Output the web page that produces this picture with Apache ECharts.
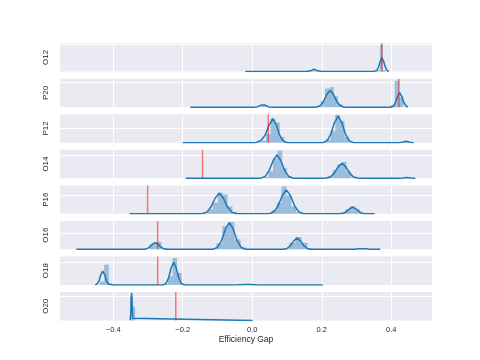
<!DOCTYPE html>
<html>
<head>
<meta charset="utf-8">
<script src="https://cdn.jsdelivr.net/npm/echarts@6/dist/echarts.min.js"></script>
<style>html,body{margin:0;padding:0;background:#fff}#c{width:480px;height:360px}</style>
</head>
<body>
<div id="c"></div>
<script>
// ---- data ----
const panelNames = ['O12','P20','P12','O14','P16','O16','O18','O20'];
const redLines = [0.373, 0.422, 0.046, -0.143, -0.301, -0.272, -0.272, -0.22];
const yMax = [104, 29, 19.6, 24.4, 15.4, 17.2, 25.3, 233];
const yTick = [100, 25, 10, 20, 10, 10, 20, 200];
const binWidth = [0.00824, 0.0125, 0.0133, 0.0132, 0.0141, 0.0175, 0.0131, 0.00704];
const xTickLabels = ['-0.4','-0.2','0.0','0.2','0.4'];

const kdeO12 = [[-0.02,0],[0.15,0],
  [0.157,0.09],[0.1623,0.67],[0.1675,2.73],[0.1728,6.34],[0.178,8.4],[0.1833,6.34],[0.1885,2.73],[0.1938,0.67],[0.199,0.09],
  [0.205,0],[0.348,0],
  [0.3535,0.55],[0.3584,4.0],[0.3633,16.25],[0.3681,37.75],[0.373,50],[0.3779,37.75],[0.3828,16.25],[0.3876,4.0],[0.3925,0.55]];
const kdeP20 = [[-0.178,0],[0.003,0],
  [0.0085,0.03],[0.0141,0.22],[0.0197,0.89],[0.0254,2.08],[0.031,2.75],[0.0366,2.08],[0.0423,0.89],[0.0479,0.22],[0.0535,0.03],
  [0.06,0],[0.178,0],
  [0.185,0.19],[0.1948,1.36],[0.2045,5.53],[0.2143,12.84],[0.224,17.0],[0.2338,12.84],[0.2435,5.53],[0.2533,1.36],[0.263,0.19],
  [0.27,0],[0.394,0],
  [0.4,0.16],[0.406,1.18],[0.412,4.78],[0.418,11.1],[0.424,14.7],[0.43,11.1],[0.436,4.78],[0.442,1.18],[0.448,0.16]];
const kdeP12 = [[-0.2,0],[0.004,0],
  [0.012,0.2],[0.025,1.5],[0.037,5.2],[0.048,12.0],[0.059,16.6],[0.0688,12.53],[0.0785,5.4],[0.0883,1.33],[0.098,0.18],
  [0.105,0],[0.198,0],
  [0.205,0.2],[0.2155,1.47],[0.226,5.98],[0.2365,13.89],[0.247,18.4],[0.2575,13.89],[0.268,5.98],[0.2785,1.47],[0.289,0.2],
  [0.296,0],[0.415,0],
  [0.421,0.01],[0.4263,0.08],[0.4315,0.33],[0.4368,0.76],[0.442,1.0],[0.4473,0.76],[0.4525,0.33],[0.4578,0.08],[0.464,0.01]];
const kdeO14 = [[-0.191,0],[0.018,0],
  [0.026,0.22],[0.0373,1.6],[0.0485,6.5],[0.0598,15.1],[0.071,20],[0.0823,15.1],[0.0935,6.5],[0.1048,1.6],[0.116,0.22],
  [0.123,0],[0.206,0],
  [0.213,0.14],[0.2243,1.03],[0.2355,4.19],[0.2468,9.74],[0.258,12.9],[0.2693,9.74],[0.2805,4.19],[0.2918,1.03],[0.303,0.14],
  [0.31,0],[0.415,0],
  [0.421,0.01],[0.427,0.05],[0.433,0.2],[0.439,0.45],[0.445,0.6],[0.451,0.45],[0.457,0.2],[0.463,0.05],[0.469,0.01]];
const kdeP16 = [[-0.353,0],[-0.15,0],
  [-0.143,0.12],[-0.131,0.9],[-0.119,3.64],[-0.107,8.46],[-0.095,11.2],[-0.083,8.46],[-0.071,3.64],[-0.059,0.9],[-0.047,0.12],
  [-0.04,0],[0.043,0],
  [0.05,0.14],[0.062,1.04],[0.074,4.23],[0.086,9.82],[0.098,13],[0.11,9.82],[0.122,4.23],[0.134,1.04],[0.146,0.14],
  [0.153,0],[0.246,0],
  [0.253,0.04],[0.262,0.29],[0.271,1.17],[0.28,2.72],[0.289,3.6],[0.298,2.72],[0.307,1.17],[0.316,0.29],[0.325,0.04],
  [0.332,0],[0.352,0]];
const kdeO16 = [[-0.506,0],[-0.319,0],
  [-0.312,0.05],[-0.3038,0.33],[-0.2955,1.33],[-0.2873,3.1],[-0.279,4.1],[-0.2708,3.1],[-0.2625,1.33],[-0.2543,0.33],[-0.246,0.05],
  [-0.239,0],[-0.118,0],
  [-0.111,0.18],[-0.0998,1.3],[-0.0885,5.27],[-0.0773,12.23],[-0.066,16.2],[-0.0548,12.23],[-0.0435,5.27],[-0.0323,1.3],[-0.021,0.18],
  [-0.014,0],[0.083,0],
  [0.09,0.07],[0.0998,0.54],[0.1095,2.21],[0.1193,5.13],[0.129,6.8],[0.1388,5.13],[0.1485,2.21],[0.1583,0.54],[0.168,0.07],
  [0.175,0],[0.271,0],
  [0.2823,0.03],[0.2935,0.13],[0.3048,0.3],[0.316,0.4],[0.3273,0.3],[0.3385,0.13],[0.3498,0.03],[0.361,0],
  [0.368,0]];
const kdeO18 = [[-0.452,0],
  [-0.451,0.13],[-0.4458,0.98],[-0.4405,3.97],[-0.4353,9.21],[-0.43,12.2],[-0.4248,9.21],[-0.4195,3.97],[-0.4143,0.98],[-0.409,0.13],
  [-0.402,0],[-0.261,0],
  [-0.2545,0.22],[-0.2474,1.62],[-0.2403,6.57],[-0.2331,15.25],[-0.226,20.2],[-0.2189,15.25],[-0.2118,6.57],[-0.2046,1.62],[-0.1975,0.22],
  [-0.19,0],[-0.051,0],
  [-0.042,0.04],[-0.033,0.15],[-0.024,0.34],[-0.015,0.45],[-0.006,0.34],[0.003,0.15],[0.012,0.04],[0.021,0],
  [0.203,0]];
const kdeO20 = [
  [-0.3512,2.5],[-0.3502,18.2],[-0.3491,73.8],[-0.3481,171.4],[-0.347,227],[-0.346,171.4],[-0.3449,73.8],[-0.3439,18.2],[-0.3428,2.5],
  [-0.341,0],[0.001,0]];

const histO12 = [[0.1695,3],[0.1778,3],[0.359,4],[0.3673,99],[0.3755,6]];
const histP20 = [[0.022,1.5],[0.0345,1.5],[0.1845,1],[0.197,6],[0.2095,19],[0.222,20.4],[0.2345,11],[0.247,3],[0.2595,0.5],[0.3970,2],[0.4095,27],[0.422,10]];
const histP12 = [[0.0128,0.5],[0.0261,1.5],[0.0394,6],[0.0527,16.6],[0.066,14],[0.0793,4],[0.0926,0.7],
  [0.199,0.5],[0.2123,2],[0.2256,8],[0.2389,19.2],[0.2522,15],[0.2655,4],[0.2788,0.7],[0.4385,0.6]];
const histO14 = [[0.0334,1],[0.0466,6],[0.0598,17],[0.073,23.7],[0.0862,9],[0.0994,2],
  [0.2182,2],[0.2314,7],[0.2446,12],[0.2578,14],[0.271,6],[0.2842,1]];
const histP16 = [[-0.1415,0.8],[-0.1274,2.5],[-0.1133,6],[-0.0992,11.5],[-0.0851,10.5],[-0.071,4],[-0.0569,1],
  [0.0418,0.5],[0.0559,2],[0.07,6],[0.0841,14.8],[0.0982,10],[0.1123,4],[0.1264,0.8],
  [0.2533,0.6],[0.2674,2.5],[0.2815,4],[0.2956,2.5],[0.3097,0.5]];
const histO16 = [[-0.296,3],[-0.2785,4.5],[-0.261,0.7],
  [-0.1035,3.6],[-0.086,14],[-0.0685,16.5],[-0.051,6],[-0.0335,1],
  [0.089,0.5],[0.1065,4],[0.124,7.5],[0.1415,4],[0.159,0.5]];
const histO18 = [[-0.4389,3],[-0.4258,18],[-0.4127,1],
  [-0.2555,1],[-0.2424,7.7],[-0.2293,24],[-0.2162,10.7],[-0.2031,1]];
const histO20 = [[-0.351,200],[-0.344,115]];

const kdes = [kdeO12, kdeP20, kdeP12, kdeO14, kdeP16, kdeO16, kdeO18, kdeO20];
const hists = [histO12, histP20, histP12, histO14, histP16, histO16, histO18, histO20];

// ---- chart ----
const chart = echarts.init(document.getElementById('c'), null, {renderer: 'canvas'});
const FONT = 'Liberation Sans';
const TXT = '#262626';
const grids = [], xAxes = [], yAxes = [], series = [];
const n = panelNames.length;
for (let i = 0; i < n; i++) {
  grids.push({left: 60, width: 372, top: 43.2 + i * 35.55, height: 28.4,
    show: true, backgroundColor: '#EAEAF2', borderWidth: 0});
  const last = i === n - 1;
  xAxes.push({
    type: 'value', gridIndex: i, min: -0.553, max: 0.517, splitNumber: 5,
    axisLine: {show: false}, axisTick: {show: false},
    axisLabel: {show: last, showMinLabel: false, showMaxLabel: false, margin: 5,
      fontSize: 7.5, color: TXT, fontFamily: FONT,
      formatter: v => { const s = Math.abs(v) < 1e-9 ? '0.0' : v.toFixed(1); return s.replace('-', '\u2212'); }},
    splitLine: {show: true, showMinLine: false, showMaxLine: false, lineStyle: {color: '#ffffff', width: 1}},
    name: last ? 'Efficiency Gap' : '', nameLocation: 'middle', nameGap: 15,
    nameTextStyle: {fontSize: 8.5, color: TXT, fontFamily: FONT}
  });
  yAxes.push({
    type: 'value', gridIndex: i, min: 0, max: yMax[i], interval: yTick[i],
    axisLine: {show: false}, axisTick: {show: false}, axisLabel: {show: false},
    splitLine: {show: true, showMinLine: false, showMaxLine: false, lineStyle: {color: '#ffffff', width: 1}},
    name: panelNames[i], nameLocation: 'middle', nameRotate: 90, nameGap: 10,
    nameTextStyle: {fontSize: 8, color: TXT, fontFamily: FONT}
  });
  const w = binWidth[i];
  series.push({
    type: 'custom', xAxisIndex: i, yAxisIndex: i, data: hists[i], encode: {x: 0, y: 1}, z: 2,
    renderItem: (params, api) => {
      const x0 = api.value(0), h = api.value(1);
      const p1 = api.coord([x0, h]);
      const p2 = api.coord([x0 + w, 0]);
      return {type: 'rect', shape: {x: p1[0], y: p1[1], width: p2[0] - p1[0], height: p2[1] - p1[1]},
        style: {fill: 'rgba(31,119,180,0.4)'}};
    }
  });
  series.push({
    type: 'line', xAxisIndex: i, yAxisIndex: i, data: kdes[i], showSymbol: false, symbol: 'none',
    smooth: false, z: 3, lineStyle: {color: '#1f77b4', width: 1.5}
  });
  series.push({
    type: 'line', xAxisIndex: i, yAxisIndex: i, data: [[redLines[i], 0], [redLines[i], yMax[i]]],
    showSymbol: false, symbol: 'none', z: 4, lineStyle: {color: 'rgba(255,0,0,0.5)', width: 1.5}
  });
}
chart.setOption({animation: false, backgroundColor: '#ffffff', grid: grids, xAxis: xAxes, yAxis: yAxes, series: series});
</script>
</body>
</html>
